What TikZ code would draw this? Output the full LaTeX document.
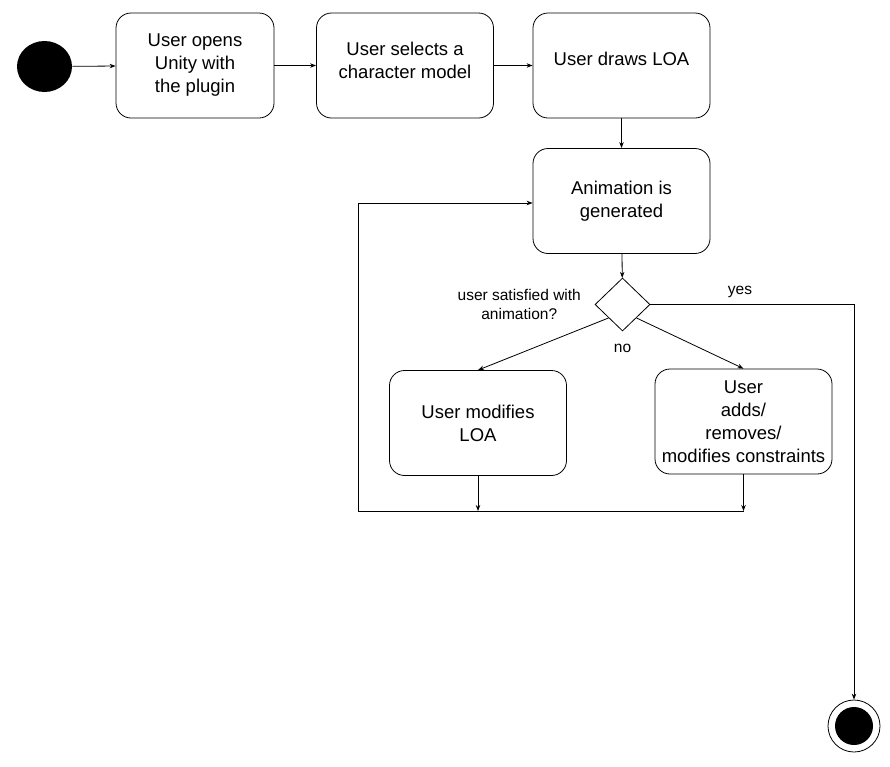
\documentclass[tikz,border=0pt]{standalone}
\usepackage{fontspec}
\setmainfont{Liberation Sans}
\usetikzlibrary{arrows.meta,shapes.geometric}

\begin{document}
\begin{tikzpicture}[x=1pt,y=-1pt,line width=0.8pt,
            >={Stealth[length=6pt,width=4.5pt]},
            activity/.style={draw,rounded corners=15pt,align=center,inner sep=0pt,
                minimum width=177pt,minimum height=105pt,font=\fontsize{18.5}{23}\selectfont},
            decision/.style={draw,diamond,inner sep=0pt,minimum width=55pt,minimum height=53pt},
            guard/.style={align=center,font=\fontsize{15.5}{19}\selectfont},
            initial/.style={ellipse,fill=black,inner sep=0pt,minimum width=55pt,minimum height=51pt},
            final/.style={circle,draw,inner sep=0pt,minimum size=52pt,
                path picture={\fill (path picture bounding box.center) circle (19pt);}}]
            \useasboundingbox (0,0) rectangle (890,766);
            \node[initial] (start) at (44.5,66.5) {};
            \node[activity,minimum width=158pt] (open) at (195,65.5) {User opens\\Unity with\\the plugin};
            \node[activity,text depth=10pt] (select) at (405,65.5) {User selects a\\character model};
            \node[activity,text depth=14pt] (drawloa) at (621.5,65.5) {User draws LOA};
            \node[activity] (generate) at (621.5,201) {Animation is\\generated};
            \node[decision,label={[guard,label distance=10pt]left:user satisfied with\\animation?},
                label={[guard,label distance=9pt]below:no}] (satisfied) at (622.5,304.5) {};
            \node[activity] (modify) at (478,423) {User modifies\\LOA};
            \node[activity] (constraints) at (743.5,421.5) {User\\adds/\\removes/\\modifies constraints};
            \node[final] (end) at (854,726) {};
            \coordinate (merge) at (358,511);
            \coordinate (back) at (358,203);
            \draw[->] (start) -- (open);
            \draw[->] (open) -- (select);
            \draw[->] (select) -- (drawloa);
            \draw[->] (drawloa) -- (generate);
            \draw[->] (generate) -- (satisfied);
            \draw[->] (satisfied.south west) -- (modify.north);
            \draw[->] (satisfied.south east) -- (constraints.north);
            \draw[->] (satisfied.east) -| (end.north) node[guard,pos=0.22,above=3pt] {yes};
            \draw[->] (modify.south) -- (modify.south |- merge);
            \draw[->] (constraints.south) -- (constraints.south |- merge);
            \draw[->] (constraints.south |- merge) -- (merge) -- (back) -- (generate.west |- back);
        \end{tikzpicture}
\end{document}
